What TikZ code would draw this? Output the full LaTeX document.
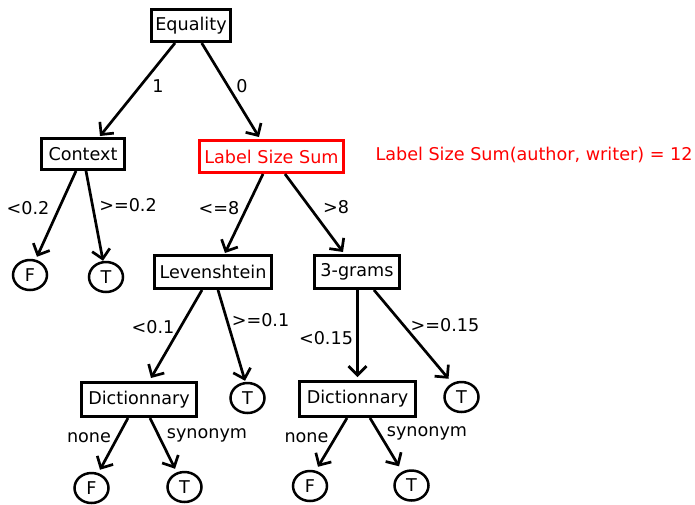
\documentclass[tikz,border=0pt]{standalone}
\usepackage{fontspec}
\setmainfont{DejaVu Sans}
\usetikzlibrary{arrows.meta,shapes.geometric}
\begin{document}
\begin{tikzpicture}[x=1pt,y=-1pt,
  every node/.style={font=\fontsize{17.6}{20}\selectfont},
  test/.style={draw, line width=3pt, inner sep=0pt},
  leaf/.style={draw, ellipse, line width=2.5pt, inner sep=0pt, minimum width=34pt, minimum height=30pt},
  edge/.style={line width=2.7pt, -{Straight Barb[length=9pt,width=18pt]}},
  lbl/.style={inner sep=0pt}]
\useasboundingbox (0,0) rectangle (695,504);

% decision nodes
\node[test, minimum width=79pt, minimum height=32pt] (eq) at (191,25.5) {Equality};
\node[test, minimum width=83pt, minimum height=31pt] (ctx) at (83,154) {Context};
\node[test, draw=red, text=red, minimum width=144pt, minimum height=32pt] (lss) at (271.5,156.5) {Label Size Sum};
\node[lbl, text=red] (note) at (534,155) {Label Size Sum(author, writer) = 12};
\node[test, minimum width=117pt, minimum height=33pt] (lev) at (213,272) {Levenshtein};
\node[test, minimum width=85pt, minimum height=33pt] (tri) at (357,272) {3-grams};
\node[test, minimum width=115pt, minimum height=34pt] (dic1) at (139,399.5) {Dictionnary};
\node[test, minimum width=116pt, minimum height=35pt] (dic2) at (357.5,399) {Dictionnary};

% leaves
\node[leaf] (f1) at (30,275) {F};
\node[leaf] (t1) at (106,277) {T};
\node[leaf] (t2) at (247.5,398) {T};
\node[leaf] (t3) at (461.5,397) {T};
\node[leaf] (f2) at (91.5,488) {F};
\node[leaf] (t4) at (184.5,487) {T};
\node[leaf] (f3) at (310,486) {F};
\node[leaf] (t5) at (411.5,485.5) {T};

% branches
\draw[edge] ([xshift=-16pt]eq.south) -- ([xshift=17pt,yshift=1pt]ctx.north);
\draw[edge] ([xshift=10.7pt]eq.south) -- ([xshift=-12.5pt,yshift=2pt]lss.north);
\draw[edge] ([xshift=-7pt]ctx.south) -- ([xshift=7pt,yshift=2pt]f1.north);
\draw[edge] ([xshift=3pt]ctx.south) -- ([xshift=-3pt]t1.north);
\draw[edge] ([xshift=-8.5pt]lss.south) -- ([xshift=12pt,yshift=1pt]lev.north);
\draw[edge] ([xshift=13.5pt]lss.south) -- ([xshift=-14pt,yshift=2pt]tri.north);
\draw[edge] ([xshift=-11pt]lev.south) -- ([xshift=12pt,yshift=3pt]dic1.north);
\draw[edge] ([xshift=5pt]lev.south) -- ([xshift=-2.5pt,yshift=1pt]t2.north);
\draw[edge] ([xshift=0.5pt]tri.south) -- ([yshift=3pt]dic2.north);
\draw[edge] ([xshift=17pt]tri.south) -- ([xshift=-13pt,yshift=2pt]t3.north);
\draw[edge] ([xshift=-11pt]dic1.south) -- ([xshift=8.5pt,yshift=2pt]f2.north);
\draw[edge] ([xshift=11pt]dic1.south) -- ([xshift=-9.5pt,yshift=2pt]t4.north);
\draw[edge] ([xshift=-10.5pt]dic2.south) -- ([xshift=8pt,yshift=3pt]f3.north);
\draw[edge] ([xshift=12.5pt]dic2.south) -- ([xshift=-12.5pt,yshift=3pt]t5.north);

% branch labels
\node[lbl] (l1) at (158,86) {1};
\node[lbl] (l0) at (242,86) {0};
\node[lbl] (la) at (28,208) {<0.2};
\node[lbl] (lb) at (128,205) {>=0.2};
\node[lbl] (lc) at (219,208) {<=8};
\node[lbl] (ld) at (336,207) {>8};
\node[lbl] (le) at (153,327) {<0.1};
\node[lbl] (lf) at (260.5,320) {>=0.1};
\node[lbl] (lg) at (326,338) {<0.15};
\node[lbl] (lh) at (445,325) {>=0.15};
\node[lbl] (li) at (89,438) {none};
\node[lbl] (lj) at (207,435) {synonym};
\node[lbl] (lk) at (306.5,438) {none};
\node[lbl] (lm) at (427,433) {synonym};
\end{tikzpicture}
\end{document}
